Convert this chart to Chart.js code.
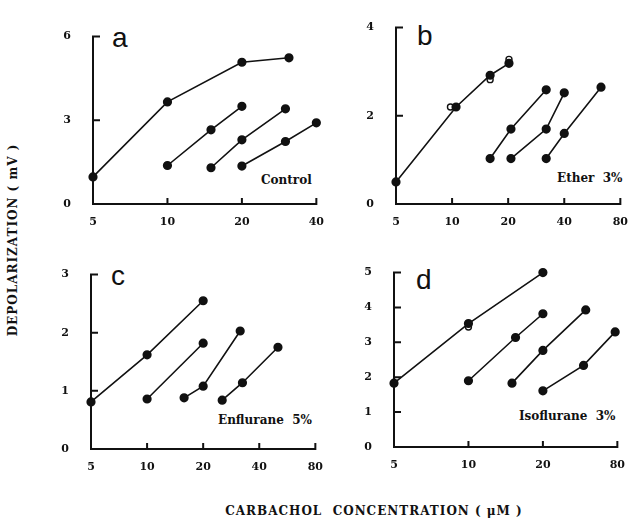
<!DOCTYPE html>
<html>
<head>
<meta charset="utf-8">
<script src="https://cdn.jsdelivr.net/npm/chart.js@4.4.1/dist/chart.umd.min.js"></script>
<style>
  body { margin: 0; background: #fff; width: 636px; height: 518px; position: relative; overflow: hidden; font-family: 'DejaVu Serif', serif; color: #111; }
  canvas { position: absolute; }
  .cond { position: absolute; font-weight: bold; font-size: 12px; white-space: pre; line-height: 1; }
  .letter { position: absolute; font-family: 'Liberation Sans', sans-serif; font-size: 28px; line-height: 1; }
  .title { position: absolute; font-weight: bold; font-size: 12px; white-space: pre; letter-spacing: 1px; text-align: center; line-height: 1; }
</style>
</head>
<body>
<div class="letter" style="left:112px; top:24px;">a</div>
<div class="letter" style="left:417px; top:22px;">b</div>
<div class="letter" style="left:111px; top:262px;">c</div>
<div class="letter" style="left:416px; top:266px;">d</div>
<div class="cond" style="left:261px; top:174px;">Control</div>
<div class="cond" style="left:557px; top:172px;">Ether  3%</div>
<div class="cond" style="left:218px; top:414px;">Enflurane  5%</div>
<div class="cond" style="left:519px; top:410px;">Isoflurane  3%</div>
<div class="title" style="left:-87px; top:234px; width:200px; transform:rotate(-90deg);">DEPOLARIZATION ( mV )</div>
<div class="title" style="left:224px; top:505px; width:300px;">CARBACHOL  CONCENTRATION ( μM )</div>
<script>
// ---- data: carbachol concentration (uM) vs depolarization (mV) ----
// a: Control
const ctrlX = [[5, 10, 20, 31], [10, 15, 20], [15, 20, 30], [20, 30, 40]];
const ctrlY = [[0.97, 3.66, 5.08, 5.24], [1.38, 2.66, 3.5], [1.3, 2.3, 3.41], [1.36, 2.24, 2.91]];
// b: Ether 3%
const etherX = [[5, 10.5, 16, 20.2], [16, 20.7, 32], [20.7, 32, 40], [32, 40, 63]];
const etherY = [[0.5, 2.2, 2.92, 3.19], [1.03, 1.7, 2.59], [1.03, 1.7, 2.52], [1.03, 1.6, 2.65]];
const etherOpenX = [9.8, 16, 20.2];
const etherOpenY = [2.2, 2.82, 3.28];
// c: Enflurane 5%
const enfX = [[5, 10, 20], [10, 20], [15.8, 20, 31.6], [25.3, 32.5, 50.4]];
const enfY = [[0.81, 1.62, 2.55], [0.86, 1.82], [0.88, 1.08, 2.03], [0.84, 1.14, 1.75]];
// d: Isoflurane 3%
const isoX = [[5, 10, 20], [10, 15.5, 20], [15, 20, 29.8], [20, 29.2, 39.2]];
const isoY = [[1.83, 3.54, 5.0], [1.9, 3.14, 3.82], [1.83, 2.77, 3.93], [1.61, 2.34, 3.3]];
const isoOpenX = [10];
const isoOpenY = [3.44];

// tick values / labels
const aXTicks = [5, 10, 20, 40], aXLabels = ['5', '10', '20', '40'];
const bXTicks = [5, 10, 20, 40, 80], bXLabels = ['5', '10', '20', '40', '80'];
const cXTicks = [5, 10, 20, 40, 80], cXLabels = ['5', '10', '20', '40', '80'];
const dXTicks = [5, 10, 20, 40], dXLabels = ['5', '10', '20', '80'];
const aYTicks = [0, 3, 6];
const bYTicks = [0, 2, 4];
const cYTicks = [0, 1, 2, 3];
const dYTicks = [0, 1, 2, 3, 4, 5];

const M = { left: 50, top: 16, right: 14, bottom: 30 };
const INK = '#111';
const tickFont = { family: 'DejaVu Serif', weight: 'bold', size: 11 };

// axes drawn like the original: bracket at top, inward tick marks
const frame = {
  id: 'frame',
  beforeDatasetsDraw(chart) {
    const { ctx, chartArea: a, scales: { x, y } } = chart;
    ctx.save();
    ctx.strokeStyle = INK;
    ctx.lineWidth = 2;
    ctx.beginPath();
    ctx.moveTo(a.left + 7, a.top);
    ctx.lineTo(a.left, a.top);
    ctx.lineTo(a.left, a.bottom);
    ctx.lineTo(a.right, a.bottom);
    ctx.lineTo(a.right, a.bottom - 6);
    y.ticks.slice(1, -1).forEach(t => {
      const py = y.getPixelForValue(t.value);
      ctx.moveTo(a.left, py);
      ctx.lineTo(a.left + 7, py);
    });
    x.ticks.slice(1, -1).forEach(t => {
      const px = x.getPixelForValue(t.value);
      ctx.moveTo(px, a.bottom);
      ctx.lineTo(px, a.bottom - 6);
    });
    ctx.stroke();
    ctx.restore();
  }
};

function makePanel(box, xs, ys, openX, openY, xTicks, xLabels, yTicks) {
  const canvas = document.createElement('canvas');
  canvas.width = box.r - box.l + M.left + M.right;
  canvas.height = box.b - box.t + M.top + M.bottom;
  canvas.style.left = (box.l - M.left) + 'px';
  canvas.style.top = (box.t - M.top) + 'px';
  document.body.appendChild(canvas);

  const datasets = xs.map((xv, i) => ({
    data: xv.map((x, j) => ({ x, y: ys[i][j] })),
    showLine: true,
    borderColor: INK,
    backgroundColor: INK,
    borderWidth: 1.6,
    pointRadius: 3.8,
    pointHoverRadius: 3.8,
    clip: false
  }));
  if (openX) {
    datasets.push({
      data: openX.map((x, j) => ({ x, y: openY[j] })),
      showLine: false,
      borderColor: INK,
      backgroundColor: '#fff',
      borderWidth: 1.4,
      pointRadius: 3,
      clip: false
    });
  }

  new Chart(canvas, {
    type: 'scatter',
    data: { datasets },
    options: {
      responsive: false,
      animation: false,
      events: [],
      layout: { padding: { top: M.top, right: M.right, left: 0, bottom: 0 } },
      plugins: { legend: { display: false }, tooltip: { enabled: false } },
      scales: {
        x: {
          type: 'logarithmic',
          min: xTicks[0],
          max: xTicks[xTicks.length - 1],
          afterBuildTicks: s => { s.ticks = xTicks.map(v => ({ value: v })); },
          afterFit: s => { s.height = M.bottom; },
          grid: { display: false, drawTicks: false },
          border: { display: false },
          ticks: { padding: 12, color: INK, font: tickFont, maxRotation: 0, autoSkip: false,
                   callback: (v, i) => xLabels[i] }
        },
        y: {
          min: yTicks[0],
          max: yTicks[yTicks.length - 1],
          afterBuildTicks: s => { s.ticks = yTicks.map(v => ({ value: v })); },
          afterFit: s => { s.width = M.left; },
          grid: { display: false, drawTicks: false },
          border: { display: false },
          ticks: { padding: 22, color: INK, font: tickFont, autoSkip: false,
                   callback: v => String(v) }
        }
      }
    },
    plugins: [frame]
  });
}

makePanel({ l: 93, r: 322, t: 24, b: 204 }, ctrlX, ctrlY, null, null, aXTicks, aXLabels, aYTicks);
makePanel({ l: 396, r: 626, t: 15, b: 204 }, etherX, etherY, etherOpenX, etherOpenY, bXTicks, bXLabels, bYTicks);
makePanel({ l: 91, r: 321, t: 262, b: 449 }, enfX, enfY, null, null, cXTicks, cXLabels, cYTicks);
makePanel({ l: 394, r: 623, t: 260, b: 447 }, isoX, isoY, isoOpenX, isoOpenY, dXTicks, dXLabels, dYTicks);
</script>
</body>
</html>
